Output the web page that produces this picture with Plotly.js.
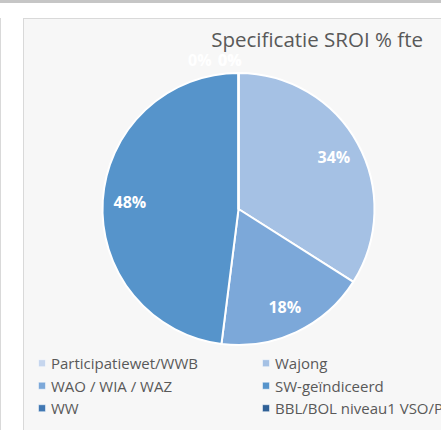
<!DOCTYPE html>
<html>
<head>
<meta charset="utf-8">
<script src="https://cdn.plot.ly/plotly-3.0.1.min.js"></script>
<style>
html, body { margin:0; padding:0; width:441px; height:430px; overflow:hidden; background:#ffffff; }
#topbar { position:absolute; left:0; top:0; width:441px; height:3px; background:#c6c6c6; }
#leftline { position:absolute; left:0; top:18px; width:1px; height:412px; background:#d9d9d9; }
#frame { position:absolute; left:23px; top:18px; width:470px; height:420px; background:#f7f7f7; border-left:1px solid #d9d9d9; border-top:1px solid #d9d9d9; overflow:hidden; }
#chart { position:absolute; left:-13px; top:0; width:470px; height:411px; }
</style>
</head>
<body>
<div id="topbar"></div>
<div id="leftline"></div>
<div id="frame"><div id="chart"></div></div>
<script>
const categories = ["Participatiewet/WWB", "Wajong", "WAO / WIA / WAZ", "SW-geïndiceerd", "WW", "BBL/BOL niveau1 VSO/PR"];
const values = [0, 34, 18, 48, 0, 0];
const colors = ["#c6d6ee", "#a5c1e4", "#7ca8d9", "#5694cb", "#4178b3", "#2f6096"];
const chartTitle = "Specificatie SROI % fte";

const W = 470, H = 411;
const dom = { x: [0.19468, 0.77340], y: [0.2068, 0.8686] };
const total = values.reduce(function (a, b) { return a + b; }, 0);
const pctText = function (v) { return Math.round(100 * v / total) + "%"; };
const labelFont = { family: "Open Sans", size: 16, color: "#ffffff", weight: "bold" };

// zero-value slices: Excel draws their labels just above the top of the pie
const zeroIdx = [];
values.forEach(function (v, i) { if (v === 0) zeroIdx.push(i); });
const cx = (dom.x[0] + dom.x[1]) / 2;
const annotations = zeroIdx.map(function (i, k) {
  const first = (k === 0);
  return {
    xref: "paper", yref: "paper", x: cx, y: dom.y[1],
    xanchor: first ? "right" : "left", yanchor: "middle",
    xshift: first ? -24 : -22, yshift: 13,
    text: pctText(values[i]), showarrow: false, font: labelFont
  };
});

// the filled pie
const pie = {
  type: "pie",
  labels: categories,
  values: values,
  sort: false,
  direction: "clockwise",
  rotation: 0,
  marker: { colors: colors, line: { color: "#ffffff", width: 2 } },
  textinfo: "none",
  domain: dom,
  hoverinfo: "none",
  showlegend: true
};

// transparent ring on top carrying the data labels near the outer edge (like Excel "best fit")
const labelRing = {
  type: "pie",
  labels: categories,
  values: values,
  sort: false,
  direction: "clockwise",
  rotation: 0,
  hole: 0.6,
  marker: { colors: categories.map(function () { return "rgba(0,0,0,0)"; }), line: { width: 0 } },
  texttemplate: "%{percent:.0%}",
  textposition: values.map(function (v) { return v === 0 ? "none" : "inside"; }),
  insidetextorientation: "horizontal",
  insidetextfont: labelFont,
  domain: dom,
  hoverinfo: "none",
  showlegend: false
};

const layout = {
  width: W, height: H,
  margin: { l: 0, r: 0, t: 0, b: 0, autoexpand: false },
  paper_bgcolor: "rgba(0,0,0,0)",
  plot_bgcolor: "rgba(0,0,0,0)",
  font: { family: "Open Sans", color: "#595959" },
  title: { text: chartTitle, font: { family: "Open Sans", size: 20.5, color: "#595959" },
           xref: "paper", x: 0.8766, xanchor: "right", yref: "paper", y: 0.949, yanchor: "middle" },
  showlegend: true,
  legend: {
    orientation: "h", x: 0, xanchor: "left", y: 0.202, yanchor: "top",
    entrywidth: 179, entrywidthmode: "pixels",
    font: { family: "Open Sans", size: 15, color: "#595959" },
    bgcolor: "rgba(0,0,0,0)", traceorder: "normal"
  },
  annotations: annotations
};

Plotly.newPlot("chart", [pie, labelRing], layout, { displayModeBar: false, staticPlot: true }).then(function () {
  document.querySelectorAll("#chart .legendpoints path").forEach(function (p) {
    p.setAttribute("d", "M3.5,3.5H-3.5V-3.5H3.5Z");
    p.setAttribute("transform", "translate(31,0)");
    p.style.strokeWidth = "0.5px";
  });
});
</script>
</body>
</html>
